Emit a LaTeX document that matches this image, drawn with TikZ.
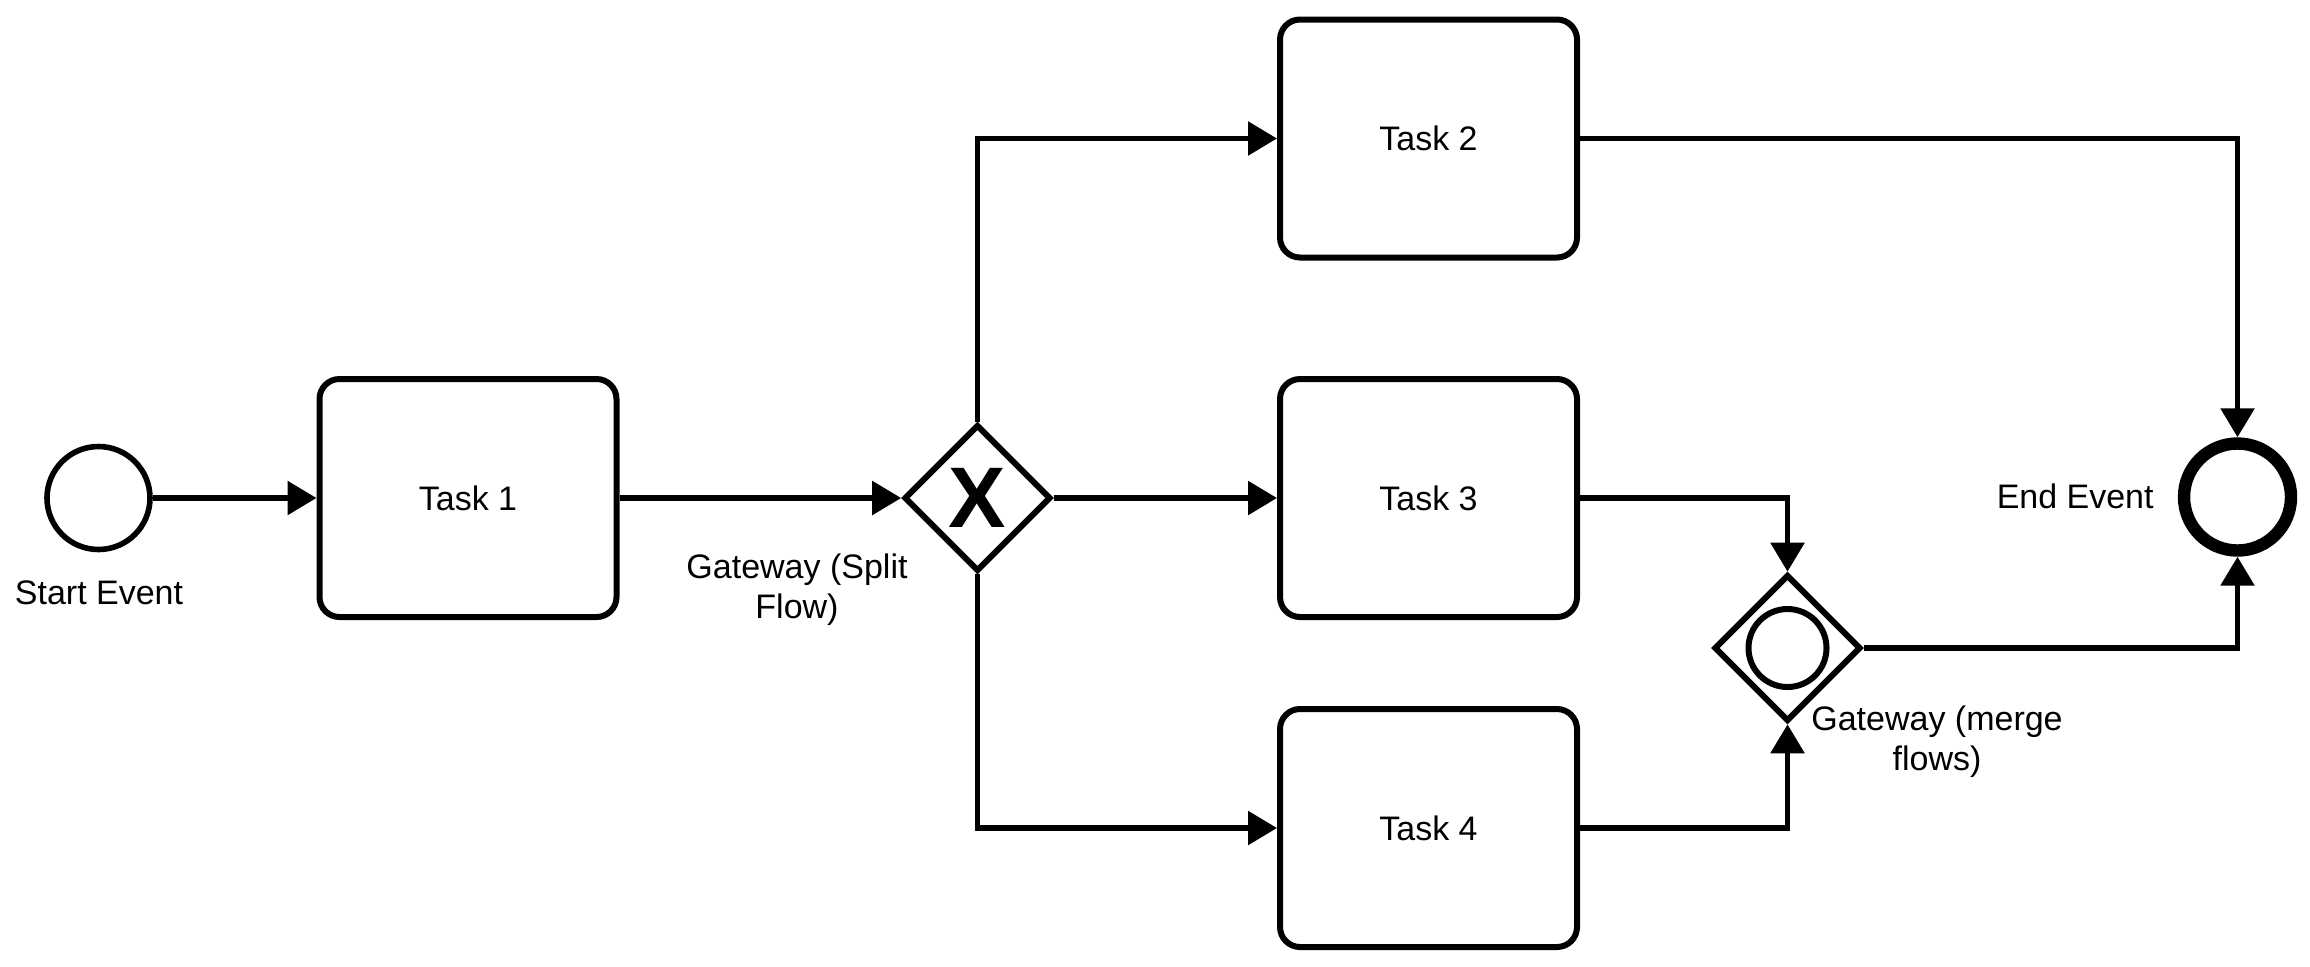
\documentclass[tikz,border=0pt]{standalone}
\usepackage{fontspec}
\setmainfont{Liberation Sans}
\usetikzlibrary{arrows.meta,shapes.geometric}
\tikzset{
  task/.style={draw, rounded corners=10pt, line width=3pt, minimum width=148.5pt, minimum height=119pt, inner sep=0pt, font=\fontsize{17}{20}\selectfont},
  gateway/.style={draw, diamond, aspect=1, line width=3pt, minimum width=73.3pt, minimum height=73.3pt, inner sep=0pt},
  evstart/.style={draw, circle, line width=2.8pt, minimum size=51.5pt, inner sep=0pt},
  evend/.style={draw, circle, line width=6.2pt, minimum size=53.5pt, inner sep=0pt},
  lbl/.style={align=center, inner sep=0pt, font=\fontsize{17}{20}\selectfont},
  flow/.style={line width=2.8pt, line join=miter, -{Triangle[length=14.5pt,width=16.5pt]}},
}
\begin{document}
\begin{tikzpicture}[x=0.5pt,y=-0.5pt]
\useasboundingbox (0,0) rectangle (2310,966);
% nodes
\node[evstart] (start) at (98.5,498) {};
\node[task] (t1) at (468,498) {Task 1};
\node[gateway] (gs) at (977.5,498) {};
\node[font=\fontsize{43}{43}\selectfont\bfseries, inner sep=0pt] (gsx) at (977.5,498) {X};
\node[task] (t2) at (1428.5,138.5) {Task 2};
\node[task] (t3) at (1428.5,498) {Task 3};
\node[task] (t4) at (1428.5,828) {Task 4};
\node[gateway] (gm) at (1787.5,648) {};
\node[draw, circle, line width=3pt, minimum size=39pt, inner sep=0pt] (gmc) at (1787.5,648) {};
\node[evend] (end) at (2237.5,497) {};
% labels
\node[lbl] (lstart) at (99,593) {Start Event};
\node[lbl] (lsplit) at (797,590) {Gateway (Split\\Flow)};
\node[lbl, anchor=east] (lend) at (2154,496) {End Event};
\node[lbl] (lmerge) at (1937,742) {Gateway (merge\\flows)};
% flows
\draw[flow] (start) -- (t1);
\draw[flow] (t1) -- (gs);
\draw[flow] (gs.east) -- (t3.west);
\draw[flow] (gs.north) |- (t2.west);
\draw[flow] (gs.south) |- (t4.west);
\draw[flow] (t2.east) -| (end.north);
\draw[flow] (t3.east) -| (gm.north);
\draw[flow] (t4.east) -| (gm.south);
\draw[flow] (gm.east) -| (end.south);
\end{tikzpicture}
\end{document}
